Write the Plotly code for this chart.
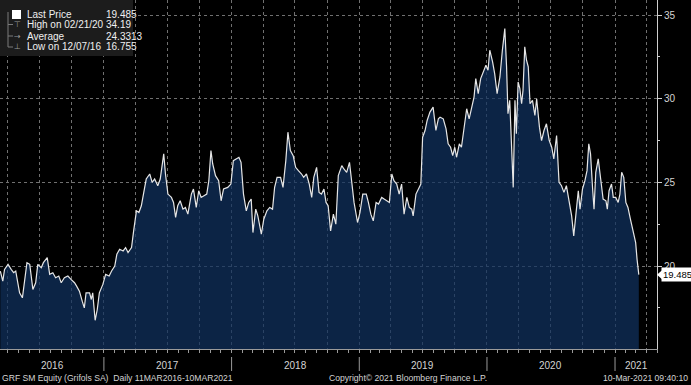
import plotly.graph_objects as go

# ---------------- data ----------------
dates_2016 = ["2016-03-11","2016-03-18","2016-03-23","2016-04-02","2016-04-11","2016-04-18","2016-04-24","2016-04-30","2016-05-05","2016-05-13",
              "2016-05-19","2016-05-26","2016-06-03","2016-06-07","2016-06-12","2016-06-20","2016-06-26","2016-07-06","2016-07-12","2016-07-23",
              "2016-07-30","2016-08-08","2016-08-16","2016-08-25","2016-09-01","2016-09-10","2016-09-20","2016-09-29","2016-10-09","2016-10-15",
              "2016-10-23","2016-10-31","2016-11-06","2016-11-11","2016-11-21","2016-11-26","2016-11-30","2016-12-07","2016-12-13","2016-12-19",
              "2016-12-29"]
price_2016 = [19.7,19.1,19.8,20.1,19.8,19.6,19.7,19.1,18.4,18.1,
              19.1,20.2,20.1,19.5,18.6,19.0,20.1,19.9,20.2,20.5,
              19.5,19.6,19.3,19.4,19.0,19.3,19.4,19.2,19.0,18.8,
              18.5,17.9,17.5,18.4,18.4,18.0,18.4,16.755,17.4,18.4,
              18.9]

dates_2017 = ["2017-01-06","2017-01-16","2017-01-23","2017-02-01","2017-02-07","2017-02-15","2017-02-25","2017-03-04","2017-03-11","2017-03-21",
              "2017-03-27","2017-04-04","2017-04-11","2017-04-18","2017-04-25","2017-05-02","2017-05-12","2017-05-19","2017-05-26","2017-06-04",
              "2017-06-11","2017-06-21","2017-06-26","2017-07-03","2017-07-13","2017-07-19","2017-07-25","2017-07-31","2017-08-07","2017-08-15",
              "2017-08-22","2017-08-29","2017-09-08","2017-09-14","2017-09-22","2017-09-29","2017-10-06","2017-10-13","2017-10-22","2017-10-28",
              "2017-11-03","2017-11-08","2017-11-16","2017-11-25","2017-12-02","2017-12-09","2017-12-21","2017-12-30"]
price_2017 = [19.5,19.4,19.7,20.0,20.7,21.0,20.9,21.1,20.8,21.1,
              22.1,23.3,23.2,23.6,24.4,25.2,25.5,25.0,25.2,24.8,
              25.2,26.7,25.5,24.3,24.1,23.8,22.9,23.6,23.9,23.4,
              23.5,23.1,24.3,24.6,23.5,24.5,24.1,24.2,24.3,25.1,
              26.9,26.1,25.4,25.1,23.9,24.6,24.7,24.9]

dates_2018 = ["2018-01-06","2018-01-14","2018-01-22","2018-01-28","2018-02-04","2018-02-12","2018-02-19","2018-02-26","2018-03-03","2018-03-11",
              "2018-03-17","2018-03-27","2018-04-03","2018-04-12","2018-04-20","2018-04-28","2018-05-04","2018-05-11","2018-05-21","2018-05-28",
              "2018-06-05","2018-06-11","2018-06-18","2018-06-26","2018-07-03","2018-07-11","2018-07-20","2018-07-26","2018-08-03","2018-08-11",
              "2018-08-18","2018-08-24","2018-09-01","2018-09-08","2018-09-15","2018-09-22","2018-09-28","2018-10-04","2018-10-11","2018-10-19",
              "2018-10-26","2018-11-02","2018-11-12","2018-11-18","2018-11-26","2018-12-04","2018-12-11","2018-12-17","2018-12-27"]
price_2018 = [26.3,26.4,26.5,26.2,24.3,23.3,23.8,24.0,22.0,23.4,
              23.0,21.9,22.8,23.3,23.5,23.4,24.7,25.3,25.3,24.7,
              26.3,28.0,26.9,26.6,25.9,25.7,25.5,25.3,25.5,24.9,
              24.1,25.3,25.9,24.4,24.3,24.6,23.8,23.6,22.1,23.1,
              22.5,25.4,26.0,25.8,25.6,26.2,24.7,23.8,22.6]

dates_2019 = ["2019-01-03","2019-01-11","2019-01-21","2019-01-27","2019-02-03","2019-02-10","2019-02-18","2019-02-25","2019-03-06","2019-03-13",
              "2019-03-21","2019-03-28","2019-04-04","2019-04-10","2019-04-18","2019-04-25","2019-05-02","2019-05-09","2019-05-17","2019-05-24",
              "2019-05-31","2019-06-04","2019-06-12","2019-06-19","2019-06-26","2019-07-01","2019-07-08","2019-07-14","2019-07-22","2019-07-31",
              "2019-08-08","2019-08-15","2019-08-20","2019-08-29","2019-09-06","2019-09-12","2019-09-19","2019-09-25","2019-10-01","2019-10-06",
              "2019-10-14","2019-10-20","2019-10-27","2019-11-04","2019-11-11","2019-11-18","2019-11-25","2019-11-30","2019-12-07","2019-12-14",
              "2019-12-21","2019-12-29"]
price_2019 = [23.2,24.3,24.3,23.8,23.1,22.7,23.8,23.7,24.1,24.0,
              23.9,23.8,25.5,25.1,24.9,24.3,24.9,23.1,24.1,23.5,
              23.4,23.0,24.3,24.6,24.9,27.7,28.1,28.7,29.2,29.5,
              28.1,28.8,28.9,28.8,28.2,27.3,27.1,26.6,27.1,26.5,
              27.3,27.1,28.2,29.4,28.8,29.5,30.1,31.2,30.3,31.2,
              31.6,32.0]

dates_2020 = ["2020-01-04","2020-01-09","2020-01-17","2020-01-23","2020-01-30","2020-02-07","2020-02-14","2020-02-21","2020-02-26","2020-03-01",
              "2020-03-06","2020-03-11","2020-03-16","2020-03-21","2020-03-25","2020-03-30","2020-04-04","2020-04-09","2020-04-13","2020-04-18",
              "2020-04-23","2020-04-28","2020-05-03","2020-05-10","2020-05-17","2020-05-22","2020-05-30","2020-06-05","2020-06-12","2020-06-19",
              "2020-06-27","2020-07-04","2020-07-10","2020-07-18","2020-07-25","2020-08-01","2020-08-08","2020-08-15","2020-08-23","2020-08-30",
              "2020-09-05","2020-09-11","2020-09-18","2020-09-23","2020-09-30","2020-10-07","2020-10-13","2020-10-18","2020-10-23","2020-10-29",
              "2020-11-02","2020-11-07","2020-11-14","2020-11-21","2020-11-28","2020-12-06","2020-12-10","2020-12-15","2020-12-22","2020-12-27"]
price_2020 = [31.7,32.9,32.2,31.5,30.3,31.3,32.9,34.19,31.9,29.1,
              29.9,26.9,24.7,29.9,27.9,31.0,30.6,29.7,30.5,33.1,
              32.3,31.9,29.7,29.9,29.0,30.0,28.3,27.5,28.1,28.5,
              27.5,27.1,26.4,27.8,25.0,24.8,24.4,24.8,23.7,23.0,
              21.8,23.2,24.5,23.4,24.6,25.1,25.7,27.3,26.7,24.6,
              23.4,25.6,26.4,25.2,24.0,23.9,23.4,24.5,24.9,24.1]

dates_2021 = ["2021-01-03","2021-01-10","2021-01-15","2021-01-20","2021-01-26","2021-02-01","2021-02-07","2021-02-14","2021-02-22","2021-03-01",
              "2021-03-05","2021-03-10"]
price_2021 = [24.1,23.8,24.3,25.6,25.3,23.8,23.5,22.8,22.0,21.4,
              20.4,19.485]

dates = dates_2016 + dates_2017 + dates_2018 + dates_2019 + dates_2020 + dates_2021
prices = price_2016 + price_2017 + price_2018 + price_2019 + price_2020 + price_2021

last_price = 19.485
high_price, high_date = 34.19, "02/21/20"
avg_price = 24.3313
low_price, low_date = 16.755, "12/07/16"

year_labels = ["2016", "2017", "2018", "2019", "2020", "2021"]
year_label_pos = ["2016-08-06", "2017-07-02", "2018-07-02", "2019-07-02", "2020-07-01", "2021-03-02"]
year_starts = ["2017-01-01", "2018-01-01", "2019-01-01", "2020-01-01", "2021-01-01"]
y_ticks = [20, 25, 30, 35]
y_range = [15.04, 35.9]

# ---------------- layout helpers ----------------
W, H = 691, 385
ML, MR, MT, MB = 0, 34, 0, 36
PW, PH = W - ML - MR, H - MT - MB


def px(x):
    return (x - ML) / PW


def py(y):
    return 1 - (y - MT) / PH


FONT = "Liberation Sans Narrow, Arial Narrow, Liberation Sans, Arial, sans-serif"
TXT = "#d4d4d4"
GRID = "#707070"

fig = go.Figure()
fig.add_trace(go.Scatter(
    x=dates, y=prices, mode="lines",
    line=dict(color="#e6e6e6", width=1.2),
    fill="tozeroy", fillcolor="rgba(16,50,96,0.72)",
    hoverinfo="x+y", showlegend=False,
))

shapes = []
annotations = []

# year separators below the axis
for d in year_starts:
    shapes.append(dict(type="line", xref="x", yref="paper", x0=d, x1=d,
                       y0=py(357), y1=py(371), line=dict(color="#9a9a9a", width=1)))
for lbl, d in zip(year_labels, year_label_pos):
    annotations.append(dict(text=lbl, x=d, xref="x", y=py(366), yref="paper",
                            showarrow=False, xanchor="center", yanchor="middle",
                            font=dict(family=FONT, size=10, color=TXT)))

# footer
annotations += [
    dict(text="GRF SM Equity (Grifols SA)  Daily 11MAR2016-10MAR2021", x=px(0), y=py(378),
         xref="paper", yref="paper", xanchor="left", yanchor="middle", showarrow=False,
         font=dict(family=FONT, size=8.6, color=TXT)),
    dict(text="Copyright\u00a9 2021 Bloomberg Finance L.P.", x=px(408), y=py(378),
         xref="paper", yref="paper", xanchor="center", yanchor="middle", showarrow=False,
         font=dict(family=FONT, size=8.6, color=TXT)),
    dict(text="10-Mar-2021 09:40:10", x=px(690), y=py(378),
         xref="paper", yref="paper", xanchor="right", yanchor="middle", showarrow=False,
         font=dict(family=FONT, size=8.6, color=TXT)),
]

# legend box
shapes.append(dict(type="rect", xref="paper", yref="paper", x0=px(0), x1=px(133),
                   y0=py(56), y1=py(0), fillcolor="#1c1c1c", line=dict(width=0), layer="above"))
# tree lines
shapes.append(dict(type="line", xref="paper", yref="paper", x0=px(8), x1=px(8), y0=py(12), y1=py(47),
                   line=dict(color="#7a7a7a", width=1), layer="above"))
for yy in (24.5, 36, 47):
    shapes.append(dict(type="line", xref="paper", yref="paper", x0=px(8), x1=px(13), y0=py(yy), y1=py(yy),
                       line=dict(color="#7a7a7a", width=1), layer="above"))
shapes.append(dict(type="rect", xref="paper", yref="paper", x0=px(12), x1=px(21), y0=py(19), y1=py(10),
                   fillcolor="#ffffff", line=dict(width=0), layer="above"))

legend_rows = [
    ("Last Price", f"{last_price:.3f}", 14),
    (f"High on {high_date}", f"{high_price:.2f}", 24.5),
    ("Average", f"{avg_price:.4f}", 36),
    (f"Low on {low_date}", f"{low_price:.3f}", 47),
]
icons = [None, "\u22a4", "\u2192", "\u22a5"]
for (lab, val, yy), ic in zip(legend_rows, icons):
    annotations.append(dict(text=lab, x=px(25), y=py(yy), xref="paper", yref="paper",
                            xanchor="left", yanchor="middle", showarrow=False,
                            font=dict(family=FONT, size=10, color="#f0f0f0")))
    annotations.append(dict(text=val, x=px(104), y=py(yy), xref="paper", yref="paper",
                            xanchor="left", yanchor="middle", showarrow=False,
                            font=dict(family=FONT, size=10, color="#f0f0f0")))
    if ic:
        annotations.append(dict(text=ic, x=px(17), y=py(yy), xref="paper", yref="paper",
                                xanchor="center", yanchor="middle", showarrow=False,
                                font=dict(family="DejaVu Sans", size=8, color="#9a9a9a")))

# last price tag on the right axis (pointer + box)
tag_frac = (last_price - y_range[0]) / (y_range[1] - y_range[0])
half_h = 4.5 / PH
shapes.append(dict(type="path", xref="paper", yref="paper",
                   path=f"M {px(657)} {tag_frac} L {px(662)} {tag_frac + half_h} "
                        f"L {px(662)} {tag_frac - half_h} Z",
                   fillcolor="#ffffff", line=dict(width=0), layer="above"))
annotations.append(dict(text=f"{last_price:.3f}", x=px(661), xref="paper", y=last_price, yref="y",
                        xanchor="left", yanchor="middle", showarrow=False,
                        bgcolor="#ffffff", borderpad=1,
                        font=dict(family=FONT, size=9.5, color="#000000")))

fig.update_layout(
    width=W, height=H,
    margin=dict(l=ML, r=MR, t=MT, b=MB, pad=0),
    paper_bgcolor="#000000", plot_bgcolor="#000000",
    showlegend=False,
    shapes=shapes, annotations=annotations,
    xaxis=dict(
        type="date", range=["2016-03-10", "2021-05-01"],
        showgrid=True, gridcolor=GRID, griddash="dot", gridwidth=1,
        dtick="M3", tick0="2016-01-01",
        ticks="outside", ticklen=3, tickcolor="#9a9a9a",
        showticklabels=False,
        showline=True, linecolor="#9a9a9a", linewidth=1,
        minor=dict(dtick="M1", ticks="outside", ticklen=3, tickcolor="#9a9a9a", showgrid=False),
        zeroline=False, fixedrange=True,
    ),
    yaxis=dict(
        side="right", range=y_range,
        tickvals=y_ticks, ticktext=[str(v) for v in y_ticks],
        showgrid=True, gridcolor=GRID, griddash="dot", gridwidth=1,
        ticks="outside", ticklen=4, tickcolor="#cfcfcf", tickwidth=1,
        tickfont=dict(family=FONT, size=10, color=TXT),
        showline=True, linecolor="#cfcfcf", linewidth=1,
        minor=dict(dtick=2.5, tick0=0, ticks="outside", ticklen=2, tickcolor="#cfcfcf", showgrid=False),
        zeroline=False, fixedrange=True,
    ),
)

fig.write_html(
    "out.html",
    config={"displayModeBar": False},
    post_script="document.body.style.margin='0px';document.body.style.background='#000';"
                "document.body.style.overflow='hidden';",
)
